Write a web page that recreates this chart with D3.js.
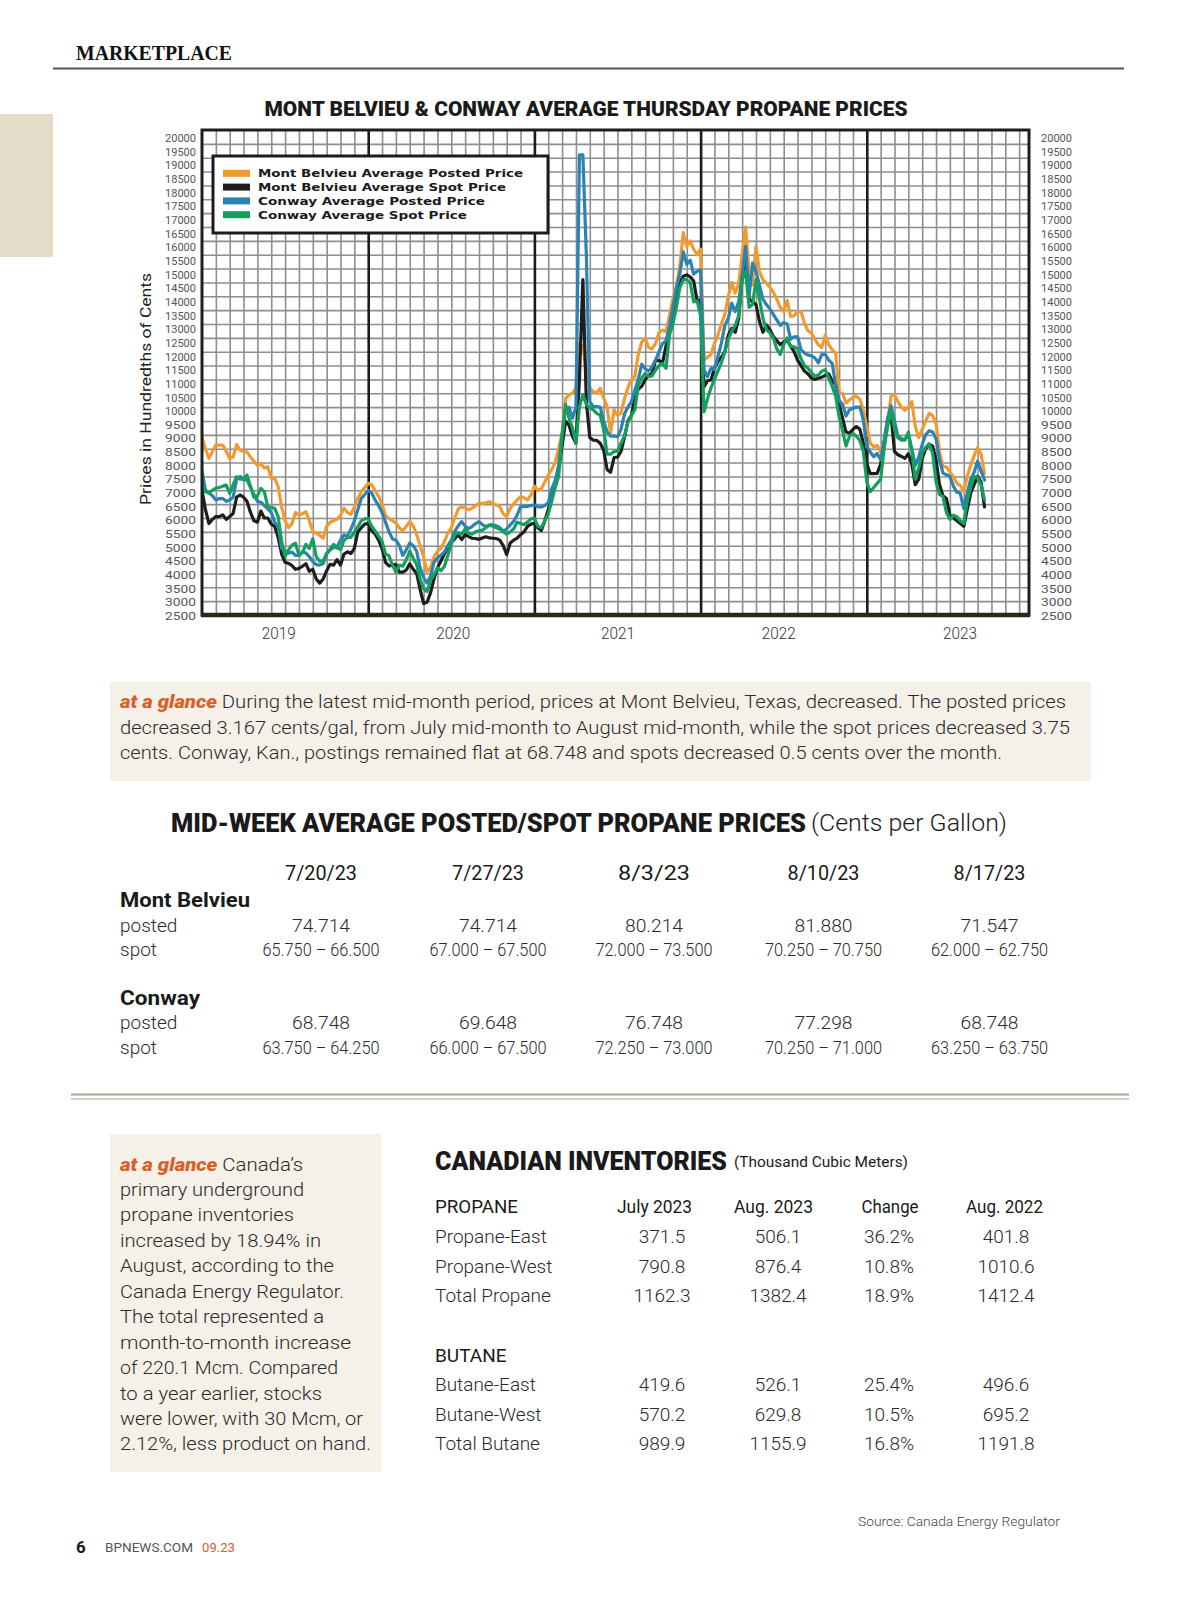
<!DOCTYPE html>
<html><head><meta charset="utf-8">
<script src="https://cdn.jsdelivr.net/npm/d3@7"></script>
<style>html,body{margin:0;padding:0;background:#fff;}svg{display:block;}</style>
</head><body>
<svg id="page" width="1200" height="1598"></svg>
<script>
// ---------------- DATA ----------------
const seriesNames = ["Mont Belvieu Average Posted Price","Mont Belvieu Average Spot Price","Conway Average Posted Price","Conway Average Spot Price"];
const seriesColors = ["#f29a2e","#1e1e1e","#2a82b5","#13a05c"];
// weekly-ish samples, quarter-month steps from start of chart window (hundredths of cents)
const months = d3.range(0, 56.5 + 1e-6, 0.25);
const mbPosted = [8900,8500,8150,8400,8630,8630,8630,8400,8150,8200,8650,8450,8390,8390,8200,8050,7900,7950,7800,7850,7430,7430,7130,6400,5900,5650,5800,6200,6100,6150,6230,5900,5500,5450,5380,5270,5690,5850,5900,5950,6100,6350,6200,6130,6400,6700,6950,7100,7250,
7200,6990,6780,6500,6080,5980,5900,5820,5650,5540,5700,5870,5720,5400,5000,4600,4050,4200,4600,4800,4900,5150,5450,5650,6000,6330,6400,6370,6290,6360,6430,6530,6530,6550,6590,6520,6470,6410,6150,6050,6350,6500,6650,6770,6730,6650,6830,7150,7000,7050,
7300,7550,7750,8000,8500,9060,10300,10450,10500,10700,12300,12200,11300,10700,10550,10520,10680,10330,10020,9060,9900,9700,9780,10300,10700,11000,11100,11900,12350,12480,12150,12100,12300,12700,12780,12720,13300,13900,14350,15100,16300,15800,16000,15700,15500,15700,
11700,11800,11900,12300,12600,13000,13350,14000,14500,14110,14450,15500,16500,14800,14400,15800,14900,14590,14480,14330,14150,13900,13600,13450,13850,13270,13300,13450,13450,13030,12750,12680,12450,12250,12150,12600,12250,12070,11950,10500,10500,10150,10260,10350,10400,10280,9900,9300,8700,8570,8620,8380,8700,9400,10400,10450,10200,10000,9880,10000,10200,9300,8900,9200,9500,9770,9700,9400,8400,7850,7850,7650,7500,7250,7170,6950,7500,7900,8250,8550,8300,7600];
const mbSpot = [7000,6300,5800,5950,6050,6050,6110,5950,6050,6170,6750,6830,6750,6600,6200,5900,5850,6250,6000,6000,5780,5700,5300,4700,4400,4360,4280,4150,4180,4260,4350,4080,4150,3800,3650,3800,4100,4330,4300,4500,4300,4700,4780,4720,4900,5500,5650,5780,5810,
5550,5420,5200,4900,4400,4270,4300,4330,4050,4050,4120,4350,4150,4000,3420,2920,2960,3300,3800,4200,4450,4700,4950,5120,5250,5390,5220,5400,5330,5270,5260,5230,5280,5320,5280,5270,5260,5200,5000,4680,5100,5200,5270,5400,5500,5700,5780,5810,5650,5550,
5900,6300,6750,7200,7800,8600,9500,9350,8950,8700,11000,14600,10200,8900,8810,8800,8700,8450,7750,7650,8180,8200,8400,8900,9500,9700,10300,10650,10750,11000,11150,11220,11700,11680,11600,12200,12800,13300,14100,14500,14720,14770,14700,14550,13830,13870,
10740,10950,10980,11400,11650,11800,12000,12600,12850,12700,13200,14700,15300,13900,13800,13700,13100,12700,12970,12800,12550,12400,12250,12350,12420,12200,12000,11700,11500,11300,11200,11050,11000,11040,11080,11150,11200,10950,10800,10100,9600,9100,9060,9200,9300,9200,8700,7950,7600,7600,7610,7950,8700,9500,9700,8400,8280,8220,8150,8320,7950,7200,7400,8150,8500,8650,8600,8100,7200,6800,6700,6100,6000,5900,5800,5700,6300,6900,7200,7500,7300,6400];
const cwPosted = [7700,7000,6900,6800,6650,6700,6700,6600,6650,6750,7400,7500,7380,7370,7100,6850,6600,6570,6450,6330,6200,5850,5690,4900,4800,4730,4770,4650,4650,4780,4740,4600,4430,4320,4300,4360,4700,4850,4930,4960,5200,5390,5340,5600,5900,6300,6700,6850,6990,
6900,6650,6450,6200,5850,5500,5250,5200,5000,4650,4850,5100,5000,4800,4200,3850,3660,3900,4400,4560,4650,4780,5000,5200,5520,5720,5870,5700,5620,5690,5800,5870,5760,5690,5750,5750,5720,5650,5530,5600,5750,5880,6100,6410,6410,6420,6450,6470,6400,6400,
6450,6550,7050,7350,7900,9000,9900,10000,9600,10000,19100,19100,15500,10200,10020,10020,10000,9500,9100,8950,8960,8930,9200,9750,10000,10200,10600,11000,11550,11380,11300,11460,11700,12000,12300,12400,12900,13600,14300,14800,15600,15150,15300,14800,14900,14950,
11340,11100,11400,11350,11820,12300,12950,13200,13750,13450,13800,14750,15800,14000,15200,14900,14400,13900,13700,13550,13350,13150,12950,13050,13000,12450,12540,12540,12080,11950,11880,11850,11780,11600,11900,11900,11700,11580,10800,10250,10100,9680,9900,9960,10000,10000,9550,8600,8380,8210,8330,8100,8800,9600,10050,9500,8950,8870,8820,9000,8500,7900,8200,8650,9000,9150,9100,8850,8100,7620,7560,7500,7150,6930,6890,6350,6900,7400,7650,8050,7700,7370];
const cwSpot = [7200,6950,6900,7000,7080,7100,7150,7190,6890,7200,7490,7400,7400,7550,7150,6750,6800,7070,6950,6400,6380,6350,6050,5150,4620,4850,5020,5090,4650,4750,5050,4900,5250,4600,4440,4450,4720,4880,5050,4920,4860,5200,5300,5300,5500,5680,5900,5970,5990,
5700,5530,5350,5150,4700,4640,4300,4050,4300,4260,4500,4800,4550,4320,3800,3450,3350,3750,3950,4200,4100,4250,4650,5060,5400,5470,5420,5610,5450,5420,5500,5540,5560,5650,5740,5700,5650,5600,5500,5420,5500,5600,5850,5800,5760,5850,5970,6000,5700,5650,
5900,6150,6600,7100,7500,9000,10100,9600,9250,8700,10000,10450,10100,9970,9900,9780,9700,9200,8300,8300,8400,8400,8700,8950,9450,9700,9900,10800,11050,11220,11100,11130,11340,11500,11580,11400,12600,13000,13600,14300,14600,14600,14500,13800,13830,13300,
9840,10300,10700,11000,11300,11600,12000,12450,12750,12950,13300,14600,14900,13600,13700,14600,13900,13200,12800,12680,12500,12100,11900,12250,12500,12200,12180,12100,11750,11500,11400,11250,11120,11150,11300,11350,11050,10750,10400,9660,9150,8600,8950,9050,8950,8800,8400,7300,6950,7100,7250,7400,8500,9300,9900,9200,8900,8810,8810,9100,8400,7400,7800,8350,8550,8680,8350,7300,6850,6770,6200,5950,6100,6050,5900,5800,6600,7100,7500,7450,7200,6650];
const yearLabels = ["2019","2020","2021","2022","2023"];
const yearTickMonths = [5.5, 18.1, 30, 41.6, 54.7];
const yearLineMonths = [12, 24, 36, 48];
const yTickValues = d3.range(2500, 20001, 500);

// Mid-week table
const midDates = ["7/20/23","7/27/23","8/3/23","8/10/23","8/17/23"];
const mbPostedTbl = ["74.714","74.714","80.214","81.880","71.547"];
const mbSpotTbl = ["65.750 – 66.500","67.000 – 67.500","72.000 – 73.500","70.250 – 70.750","62.000 – 62.750"];
const cwPostedTbl = ["68.748","69.648","76.748","77.298","68.748"];
const cwSpotTbl = ["63.750 – 64.250","66.000 – 67.500","72.250 – 73.000","70.250 – 71.000","63.250 – 63.750"];

// Canadian inventories
const invHeaders = ["July 2023","Aug. 2023","Change","Aug. 2022"];
const propaneNames = ["Propane-East","Propane-West","Total Propane"];
const propaneVals = [["371.5","506.1","36.2%","401.8"],["790.8","876.4","10.8%","1010.6"],["1162.3","1382.4","18.9%","1412.4"]];
const butaneNames = ["Butane-East","Butane-West","Total Butane"];
const butaneVals = [["419.6","526.1","25.4%","496.6"],["570.2","629.8","10.5%","695.2"],["989.9","1155.9","16.8%","1191.8"]];

// ---------------- DRAW ----------------
const svg = d3.select("#page");
const COND = "Roboto, 'DejaVu Sans Condensed', sans-serif";
function txt(g, x, y, s, o = {}) {
  const t = g.append("text").attr("x", x).attr("y", y)
    .attr("font-family", o.ff || COND).attr("font-size", o.fs || 16)
    .attr("font-weight", o.fw || 400).attr("fill", o.fill || "#222")
    .attr("text-anchor", o.anchor || "start").text(s);
  if (o.len) t.attr("textLength", o.len).attr("lengthAdjust", "spacingAndGlyphs");
  if (o.fst) t.attr("font-style", o.fst);
  if (o.ls) t.attr("letter-spacing", o.ls);
  return t;
}

// page header
svg.append("rect").attr("x", 0).attr("y", 114).attr("width", 53).attr("height", 143).attr("fill", "#e4dcc9");
txt(svg, 76, 60, "MARKETPLACE", {ff: "'Liberation Serif', 'DejaVu Serif', serif", fw: 700, fs: 21.5, len: 156, fill: "#111"});
svg.append("line").attr("x1", 53).attr("x2", 1124).attr("y1", 68.5).attr("y2", 68.5).attr("stroke", "#555").attr("stroke-width", 2);

// chart title
txt(svg, 586, 116, "MONT BELVIEU & CONWAY AVERAGE THURSDAY PROPANE PRICES", {fs: 20.5, fw: 900, len: 643, anchor: "middle", fill: "#1a1a1a"});

const L = 202, R = 1029, T = 130, B = 615;
const x = d3.scaleLinear().domain([0, 60]).range([L, 1033]);
const y = d3.scaleLinear().domain([2500, 20000]).range([B, T]);
const yLab = d3.scaleLinear().domain([2500, 20000]).range([616, 138]);

const chart = svg.append("g");
chart.append("rect").attr("x", L).attr("y", T).attr("width", R - L).attr("height", B - T).attr("fill", "#fff");

// grid (via axes)
const gx = chart.append("g").attr("transform", `translate(0,${B})`)
  .call(d3.axisBottom(x).tickValues(d3.range(1, 60).filter(m => m % 12 !== 0)).tickSize(-(B - T)).tickFormat(""));
gx.select(".domain").remove();
gx.selectAll("line").attr("stroke", "#8e8e8e").attr("stroke-width", 1.6);
const gy = chart.append("g").attr("transform", `translate(${L},0)`)
  .call(d3.axisLeft(y).tickValues(d3.range(3000, 20000, 500)).tickSize(-(R - L)).tickFormat(""));
gy.select(".domain").remove();
gy.selectAll("line").attr("stroke", "#8e8e8e").attr("stroke-width", 1.6);
const gyr = chart.append("g").attr("transform", `translate(0,${B})`)
  .call(d3.axisBottom(x).tickValues(yearLineMonths).tickSize(-(B - T)).tickFormat(""));
gyr.select(".domain").remove();
gyr.selectAll("line").attr("stroke", "#1c1c1c").attr("stroke-width", 2.6);

// lines
const clip = svg.append("clipPath").attr("id", "plotclip");
clip.append("rect").attr("x", L).attr("y", T).attr("width", R - L).attr("height", B - T);
const line = d3.line().x((d, i) => x(months[i])).y(d => y(d)).curve(d3.curveLinear);
const seriesData = [mbPosted, mbSpot, cwPosted, cwSpot];
chart.append("g").attr("clip-path", "url(#plotclip)").selectAll("path").data(seriesData).join("path")
  .attr("d", line).attr("fill", "none").attr("stroke", (d, i) => seriesColors[i])
  .attr("stroke-width", 3.2).attr("stroke-linejoin", "round").attr("stroke-linecap", "round");

// frame
chart.append("rect").attr("x", L).attr("y", T).attr("width", R - L).attr("height", B - T)
  .attr("fill", "none").attr("stroke", "#1e1e1e").attr("stroke-width", 3);
chart.append("line").attr("x1", L - 1).attr("x2", R + 1).attr("y1", B).attr("y2", B).attr("stroke", "#2a281f").attr("stroke-width", 4.5);

// y labels left/right
function styleLab(g) {
  g.select(".domain").remove();
  g.selectAll("text").attr("font-family", COND).attr("font-size", 11).attr("fill", "#555");
}
const yl = chart.append("g").attr("transform", "translate(196,0)")
  .call(d3.axisLeft(yLab).tickValues(yTickValues).tickSize(0).tickPadding(0).tickFormat(d3.format("d")));
styleLab(yl);
const yr = chart.append("g").attr("transform", "translate(1041,0)")
  .call(d3.axisRight(yLab).tickValues(yTickValues).tickSize(0).tickPadding(0).tickFormat(d3.format("d")));
styleLab(yr);
chart.selectAll(".tick text").attr("textLength", 31).attr("lengthAdjust", "spacingAndGlyphs");

// year labels
const xl = chart.append("g").attr("transform", `translate(0,${B})`)
  .call(d3.axisBottom(x).tickValues(yearTickMonths).tickSize(0).tickPadding(12).tickFormat((d, i) => yearLabels[i]));
xl.select(".domain").remove();
xl.selectAll("text").attr("font-family", COND).attr("font-size", 17).attr("fill", "#333").attr("font-weight", 300)
  .attr("textLength", 34).attr("lengthAdjust", "spacingAndGlyphs");

// y title
txt(svg, 0, 0, "Prices in Hundredths of Cents", {fs: 15.5, fill: "#222", anchor: "middle", len: 232})
  .attr("transform", "translate(151,389) rotate(-90)");

// legend
const lg = chart.append("g");
lg.append("rect").attr("x", 213).attr("y", 156).attr("width", 335).attr("height", 77)
  .attr("fill", "#fff").attr("stroke", "#1c1c1c").attr("stroke-width", 3);
const legLens = [265, 248, 227, 209];
seriesNames.forEach((n, i) => {
  const cy = 173.3 + i * 13.8;
  lg.append("rect").attr("x", 223).attr("y", cy - 3.5).attr("width", 27).attr("height", 7).attr("fill", seriesColors[i]);
  txt(lg, 258, cy + 4, n, {ff: "'DejaVu Sans', Verdana, sans-serif", fw: 700, fs: 11, len: legLens[i], fill: "#1a1a1a"});
});

// at a glance box 1
svg.append("rect").attr("x", 110).attr("y", 682).attr("width", 981).attr("height", 99).attr("fill", "#f5f1e8");
const ORANGE = "#d8612a";
function glanceLine(g, xx, yy, lead, rest, len, fs) {
  const t = g.append("text").attr("x", xx).attr("y", yy).attr("font-family", COND).attr("font-size", fs)
    .attr("fill", "#2a2a2a").attr("font-weight", 300);
  if (lead) t.append("tspan").attr("font-weight", 900).attr("font-style", "italic").attr("fill", ORANGE).text(lead);
  t.append("tspan").text(rest);
  if (len) t.attr("textLength", len).attr("lengthAdjust", "spacingAndGlyphs");
  return t;
}
glanceLine(svg, 120, 708, "at a glance", "  During the latest mid-month period, prices at Mont Belvieu, Texas, decreased. The posted prices", 946, 18.5);
glanceLine(svg, 120, 733.5, null, "decreased 3.167 cents/gal, from July mid-month to August mid-month, while the spot prices decreased 3.75", 950, 18.5);
glanceLine(svg, 120, 758.5, null, "cents. Conway, Kan., postings remained flat at 68.748 and spots decreased 0.5 cents over the month.", 882, 18.5);

// mid-week table
txt(svg, 171, 831.5, "MID-WEEK AVERAGE POSTED/SPOT PROPANE PRICES", {fs: 26, fw: 900, len: 635, fill: "#1a1a1a"});
txt(svg, 811, 830.5, "(Cents per Gallon)", {fs: 23, fw: 300, len: 196, fill: "#1a1a1a"});
const colX = [321, 488, 654, 823.5, 989.5];
midDates.forEach((d, i) => txt(svg, colX[i], 880, d, {fs: 20, anchor: "middle", fill: "#1a1a1a", fw: 400, len: 72}));
txt(svg, 120, 906.5, "Mont Belvieu", {fs: 21, fw: 700, len: 130, fill: "#1a1a1a"});
txt(svg, 120, 931.5, "posted", {fs: 19, fw: 300, fill: "#2a2a2a"});
txt(svg, 120, 956, "spot", {fs: 19, fw: 300, fill: "#2a2a2a"});
txt(svg, 120, 1004.5, "Conway", {fs: 21, fw: 700, len: 80, fill: "#1a1a1a"});
txt(svg, 120, 1029, "posted", {fs: 19, fw: 300, fill: "#2a2a2a"});
txt(svg, 120, 1054, "spot", {fs: 19, fw: 300, fill: "#2a2a2a"});
function tableRow(vals, yy, len) {
  vals.forEach((v, i) => txt(svg, colX[i], yy, v, {fs: 19, fw: 300, anchor: "middle", len: len, fill: "#2a2a2a"}));
}
tableRow(mbPostedTbl, 931.5, 58);
tableRow(mbSpotTbl, 956, 117);
tableRow(cwPostedTbl, 1029, 58);
tableRow(cwSpotTbl, 1054, 117);

// double rule
svg.append("line").attr("x1", 71).attr("x2", 1129).attr("y1", 1094.5).attr("y2", 1094.5).attr("stroke", "#aaa293").attr("stroke-width", 2);
svg.append("line").attr("x1", 71).attr("x2", 1129).attr("y1", 1099).attr("y2", 1099).attr("stroke", "#c8c0b0").attr("stroke-width", 1.5);

// at a glance box 2
svg.append("rect").attr("x", 110).attr("y", 1134).attr("width", 271).attr("height", 338).attr("fill", "#f5f1e8");
const box2 = [
  ["at a glance", " Canada’s", 183], [null, "primary underground", 184], [null, "propane inventories", 174],
  [null, "increased by 18.94% in", 201], [null, "August, according to the", 214], [null, "Canada Energy Regulator.", 224],
  [null, "The total represented a", 204], [null, "month-to-month increase", 231], [null, "of 220.1 Mcm. Compared", 218],
  [null, "to a year earlier, stocks", 202], [null, "were lower, with 30 Mcm, or", 243], [null, "2.12%, less product on hand.", 251]
];
box2.forEach((b, i) => glanceLine(svg, 120, 1170.5 + i * 25.45, b[0], b[1], b[2], 19));

// Canadian inventories
txt(svg, 435, 1169.5, "CANADIAN INVENTORIES", {fs: 26, fw: 900, len: 292, fill: "#1a1a1a"});
txt(svg, 734, 1167, "(Thousand Cubic Meters)", {fs: 15, fw: 400, len: 174, fill: "#1a1a1a"});
const invX = [654.5, 773.5, 890, 1004.5];
const invLens = [75, 79, 57, 77];
txt(svg, 435, 1213, "PROPANE", {fs: 19, fw: 400, len: 83, fill: "#1a1a1a"});
invHeaders.forEach((h, i) => txt(svg, invX[i], 1213, h, {fs: 19, fw: 400, anchor: "middle", fill: "#1a1a1a", len: invLens[i]}));
const valX = [662, 778, 889, 1006];
propaneNames.forEach((n, r) => {
  const yy = 1243 + r * 29.5;
  txt(svg, 435, yy, n, {fs: 19, fw: 300, fill: "#2a2a2a"});
  propaneVals[r].forEach((v, i) => txt(svg, valX[i], yy, v, {fs: 19, fw: 300, anchor: "middle", fill: "#2a2a2a"}));
});
txt(svg, 435, 1361.5, "BUTANE", {fs: 19, fw: 400, fill: "#1a1a1a"});
butaneNames.forEach((n, r) => {
  const yy = 1391 + r * 29.5;
  txt(svg, 435, yy, n, {fs: 19, fw: 300, fill: "#2a2a2a"});
  butaneVals[r].forEach((v, i) => txt(svg, valX[i], yy, v, {fs: 19, fw: 300, anchor: "middle", fill: "#2a2a2a"}));
});
txt(svg, 858, 1526, "Source: Canada Energy Regulator", {fs: 13.5, fw: 300, len: 202, fill: "#444"});

// footer
txt(svg, 76, 1553, "6", {fs: 17, fw: 700, fill: "#1a1a1a"});
txt(svg, 105, 1552, "BPNEWS.COM", {fs: 12.5, fw: 400, len: 88, fill: "#555"});
txt(svg, 202, 1552, "09.23", {fs: 12.5, fw: 400, len: 33, fill: ORANGE});
</script>
</body></html>
